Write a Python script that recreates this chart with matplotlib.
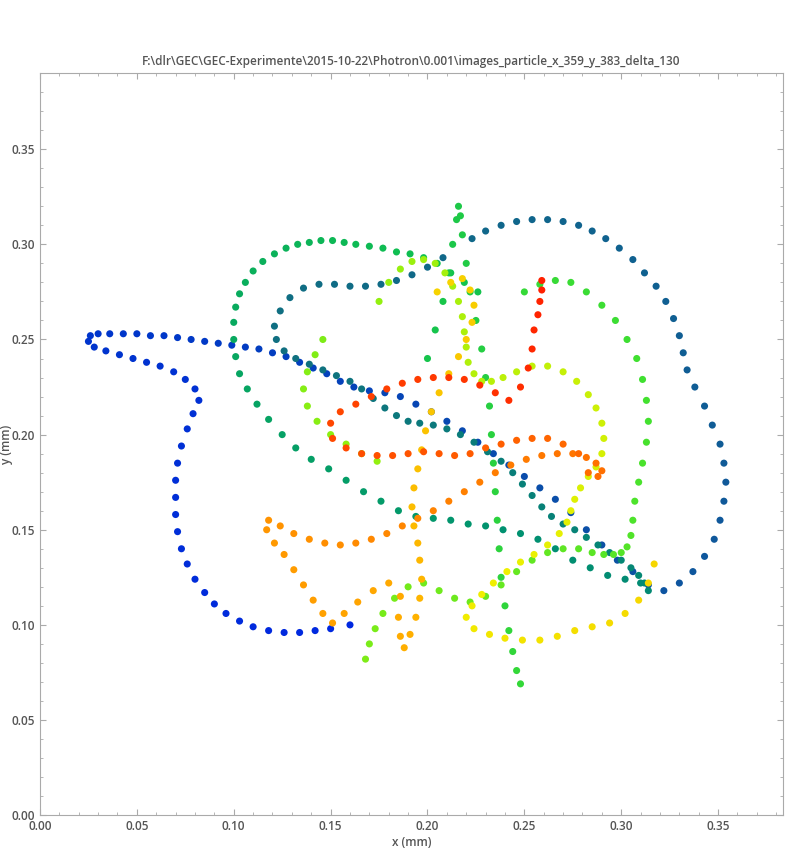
import numpy as np
import matplotlib
matplotlib.use("Agg")
import matplotlib.pyplot as plt
from matplotlib.colors import LinearSegmentedColormap

TITLE = r"F:\dlr\GEC\GEC-Experimente\2015-10-22\Photron\0.001\images_particle_x_359_y_383_delta_130"

# trajectory, in time order (segments)
blue_x = [0.160,0.150,0.142,0.134,0.126,0.118,0.110,0.103,0.096,0.090,0.085,0.080,0.076,0.073,0.071,0.070,0.070,0.070,0.071,0.073,0.076,0.079,0.082,0.080,0.075,0.069,0.062,0.055,0.048,0.041,0.034,0.028,0.025,0.026,0.030,0.036,0.043,0.050,0.057,0.064,0.071,0.078,0.085,0.092,0.099,0.106,0.113,
          0.120,0.127,0.134,0.141,0.148,0.155,0.162,0.170,0.178,0.186,
          0.194,0.202,0.210,0.218,0.226,0.234,0.242,0.250,0.258,0.266,0.274,0.282,0.290,0.298,0.306,0.314,0.322,0.330,0.337,0.343,0.348,0.351,0.353,0.354,0.353,0.351,0.347,0.343,0.338,0.334,0.332,0.330,0.327,0.323,0.318,0.312,0.306,0.299,0.292,0.285,0.278,0.270,0.262,0.254,0.246,0.238,0.230,0.223]
blue_y = [0.100,0.098,0.097,0.096,0.096,0.097,0.099,0.102,0.106,0.111,0.117,0.124,0.132,0.140,0.149,0.158,0.167,0.176,0.185,0.194,0.203,0.211,0.218,0.224,0.229,0.233,0.236,0.238,0.240,0.242,0.244,0.246,0.249,0.252,0.253,0.253,0.253,0.253,0.252,0.252,0.251,0.250,0.249,0.248,0.247,0.246,0.245,
          0.243,0.241,0.238,0.235,0.232,0.228,0.225,0.223,0.222,0.220,
          0.216,0.212,0.207,0.202,0.196,0.190,0.184,0.178,0.172,0.166,0.159,0.150,0.142,0.134,0.128,0.121,0.118,0.122,0.128,0.136,0.145,0.155,0.165,0.175,0.185,0.195,0.205,0.215,0.225,0.234,0.243,0.252,0.261,0.270,0.278,0.285,0.292,0.298,0.303,0.307,0.310,0.312,0.313,0.313,0.312,0.310,0.307,0.303]

teal_x = [0.208,0.200,0.192,0.184,0.176,0.168,0.160,0.152,0.144,0.136,0.129,0.124,0.121,0.122,0.126,0.132,0.139,0.146,0.153,0.160,0.166,0.172,0.178,0.184,0.190,0.196,0.203,0.210,0.217,0.224,0.231,0.238,0.244,0.249,0.254,0.259,0.264,0.270,0.276,0.282,0.288,0.294,0.300,0.305,0.309,0.312,0.314]
teal_y = [0.293,0.288,0.284,0.281,0.279,0.278,0.278,0.279,0.279,0.277,0.272,0.265,0.257,0.250,0.244,0.240,0.237,0.234,0.231,0.228,0.224,0.219,0.214,0.210,0.207,0.206,0.205,0.203,0.200,0.196,0.191,0.186,0.180,0.174,0.168,0.162,0.157,0.153,0.150,0.146,0.142,0.138,0.134,0.130,0.126,0.122,0.118]

green_x = [0.310,0.302,0.293,0.284,0.275,0.266,0.257,0.248,0.239,0.230,0.221,0.212,0.203,0.194,0.185,0.176,0.167,0.158,0.149,0.140,0.132,0.125,0.118,0.112,0.107,0.103,0.101,0.100,0.100,0.101,0.103,0.106,0.110,0.115,0.121,0.127,0.133,0.139,0.145,0.151,0.157,0.163,0.170,0.177,0.184,0.191,0.198,0.205,0.212,0.219,0.226]
green_y = [0.122,0.124,0.126,0.130,0.134,0.140,0.145,0.148,0.150,0.152,0.153,0.155,0.156,0.157,0.160,0.165,0.170,0.176,0.182,0.187,0.193,0.200,0.208,0.216,0.224,0.232,0.241,0.250,0.259,0.267,0.274,0.280,0.286,0.291,0.295,0.298,0.300,0.301,0.302,0.302,0.301,0.300,0.299,0.298,0.296,0.295,0.293,0.290,0.285,0.280,0.275]

spike_x = [0.200,0.204,0.208,0.211,0.213,0.215,0.216,0.217,0.218,0.220,0.222,0.225,0.228,0.230,0.232,0.233,0.234,0.235,0.236,0.237,0.238,0.240,0.242,0.244,0.246,0.248]
spike_y = [0.240,0.255,0.270,0.285,0.300,0.313,0.320,0.315,0.305,0.290,0.275,0.260,0.245,0.230,0.215,0.200,0.185,0.170,0.155,0.140,0.125,0.110,0.097,0.086,0.076,0.069]

loop_x = [0.250,0.258,0.266,0.274,0.282,0.290,0.297,0.303,0.308,0.311,0.313,0.314,0.313,0.311,0.309,0.307,0.306,0.305,0.303,0.300,0.296,0.291,
          0.285,0.278,0.270,0.262,0.254,0.246,0.238,0.230,0.222,0.214,0.206,0.198,0.190,0.183,0.177,0.173,0.170,0.168]
loop_y = [0.275,0.279,0.281,0.280,0.275,0.268,0.260,0.250,0.240,0.229,0.218,0.207,0.196,0.185,0.175,0.165,0.155,0.147,0.141,0.138,0.137,0.137,
          0.138,0.140,0.140,0.138,0.134,0.128,0.121,0.115,0.112,0.114,0.118,0.122,0.120,0.114,0.106,0.098,0.090,0.082]

yellow_x = [0.146,0.142,0.138,0.136,0.138,0.143,0.150,0.158,0.166,0.174,
            0.175,0.180,0.186,0.192,0.198,0.204,0.209,0.213,0.216,0.218,0.219,0.220,0.221,0.224,0.228,0.233,0.239,0.246,0.254,0.262,0.270,0.277,0.283,0.287,0.290,0.291,0.290,0.287,0.283,0.279,0.276,0.274,0.272,0.268,0.262,0.255,0.248,0.241,0.234,0.228,0.223,0.220,0.224,0.232,0.240,0.249,0.258,0.267,0.276,0.285,0.294,0.302,0.309,0.314,0.317]
yellow_y = [0.250,0.242,0.233,0.224,0.215,0.207,0.200,0.195,0.190,0.186,
            0.270,0.280,0.287,0.291,0.292,0.290,0.285,0.278,0.270,0.262,0.254,0.246,0.238,0.232,0.228,0.228,0.230,0.233,0.236,0.236,0.233,0.228,0.221,0.214,0.206,0.198,0.190,0.183,0.178,0.172,0.166,0.160,0.154,0.148,0.142,0.137,0.133,0.128,0.122,0.116,0.110,0.104,0.098,0.095,0.093,0.092,0.092,0.094,0.097,0.099,0.101,0.106,0.113,0.122,0.132]

orange_x = [0.205,0.212,0.218,0.222,0.224,0.223,0.220,0.216,0.211,0.206,0.202,0.199,0.197,0.195,0.193,0.192,0.193,0.195,0.196,0.197,0.196,0.194,0.191,0.188,0.186,0.185,0.186,
            0.180,0.172,0.164,0.157,0.151,0.146,0.141,0.136,0.131,0.126,0.121,0.117,0.118,0.124,0.131,0.139,0.147,0.155,0.163,0.171,0.179,0.187,0.195,0.203,0.211,0.219,0.227,0.235,0.243,0.251,0.259,0.267,0.275,0.282,0.287,0.290,0.288,0.283]
orange_y = [0.275,0.280,0.282,0.276,0.268,0.259,0.250,0.241,0.232,0.222,0.212,0.202,0.192,0.182,0.172,0.162,0.152,0.143,0.134,0.124,0.114,0.104,0.095,0.088,0.094,0.104,0.115,
            0.122,0.118,0.112,0.106,0.101,0.106,0.113,0.121,0.129,0.137,0.143,0.150,0.155,0.152,0.148,0.145,0.143,0.142,0.143,0.145,0.148,0.152,0.156,0.160,0.165,0.170,0.175,0.180,0.184,0.187,0.189,0.190,0.190,0.188,0.185,0.181,0.178,0.180]

red_x = [0.278,0.270,0.262,0.254,0.246,0.238,0.230,0.222,0.214,0.206,0.198,0.190,0.182,0.174,0.166,0.158,0.151,0.150,0.155,0.163,0.171,0.179,0.187,0.195,0.203,0.211,0.219,0.227,0.235,0.242,0.248,0.252,0.254,0.255,0.257,0.258,0.259,0.259]
red_y = [0.190,0.195,0.198,0.198,0.197,0.195,0.193,0.190,0.189,0.190,0.191,0.190,0.189,0.189,0.190,0.193,0.198,0.206,0.212,0.216,0.220,0.224,0.227,0.229,0.230,0.230,0.229,0.226,0.222,0.218,0.225,0.235,0.245,0.255,0.263,0.270,0.276,0.281]

x = np.array(blue_x + teal_x + green_x + spike_x + loop_x + yellow_x + orange_x + red_x)
y = np.array(blue_y + teal_y + green_y + spike_y + loop_y + yellow_y + orange_y + red_y)
t = np.arange(len(x))

cmap = LinearSegmentedColormap.from_list("traj", [
    "#0028e0", "#0038c8", "#105a98", "#107080", "#009070", "#10c050",
    "#40e030", "#90f010", "#f0f000", "#ffb000", "#ff7000", "#ff2000"])

plt.rcParams["font.family"] = ["Open Sans", "DejaVu Sans"]
fig = plt.figure(figsize=(8, 8.5), dpi=100)
ax = fig.add_axes([0.05, 0.041, 0.929, 0.873])
ax.scatter(x, y, c=t, cmap=cmap, s=26, linewidths=0, zorder=3)

ax.set_xlim(0, 0.3836)
ax.set_ylim(0, 0.39)
ax.set_xticks(np.arange(0, 0.351, 0.05))
ax.set_yticks(np.arange(0, 0.351, 0.05))
ax.xaxis.set_major_formatter(matplotlib.ticker.FormatStrFormatter("%.2f"))
ax.yaxis.set_major_formatter(matplotlib.ticker.FormatStrFormatter("%.2f"))
ax.minorticks_on()
ax.tick_params(which="both", direction="in", top=True, right=True, color="#aaaaaa",
               labelcolor="#555555", labelsize=8.5)
ax.tick_params(which="major", length=4)
ax.tick_params(which="minor", length=2)
for lbl in ax.get_xticklabels() + ax.get_yticklabels():
    lbl.set_fontweight("semibold")
for s in ax.spines.values():
    s.set_color("#aaaaaa")
ax.set_xlabel("x (mm)", color="#555555", fontsize=8.5, fontweight="semibold", labelpad=2)
ax.set_ylabel("y (mm)", color="#555555", fontsize=8.5, fontweight="semibold")
ax.yaxis.set_label_coords(-0.037, 0.5)
ax.set_title(TITLE, color="#555555", fontsize=8.5, fontweight="semibold", pad=6)

fig.savefig("out.png", dpi=100)
